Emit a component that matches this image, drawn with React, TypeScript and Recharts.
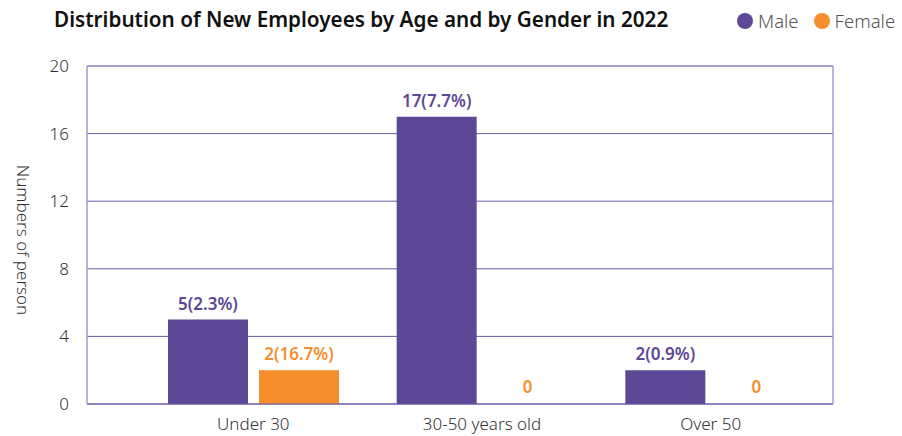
import React from 'react';
import { BarChart, Bar, XAxis, YAxis, CartesianGrid, LabelList, ReferenceLine } from 'recharts';

const categories = ['Under 30', '30-50 years old', 'Over 50'];
const maleValues = [5, 17, 2];
const malePct = ['2.3%', '7.7%', '0.9%'];
const femaleValues = [2, 0, 0];
const femalePct = ['16.7%', '', ''];
const yTicks = [0, 4, 8, 12, 16, 20];

const MALE = '#5c4894';
const FEMALE = '#f58f2e';
const GRID = '#6a5aa6';
const BORDER = '#a39acf';
const FONT = '"Noto Sans", sans-serif';

const data = categories.map((name, i) => ({
  name,
  male: maleValues[i],
  female: femaleValues[i],
  maleLabel: malePct[i] ? `${maleValues[i]}(${malePct[i]})` : `${maleValues[i]}`,
  femaleLabel: femalePct[i] ? `${femaleValues[i]}(${femalePct[i]})` : `${femaleValues[i]}`,
}));

const LegendBox = () => (
  <div style={{ position: 'absolute', left: 737, top: 8, display: 'flex', alignItems: 'center', fontFamily: FONT, fontSize: 18.5, fontWeight: 300, color: '#555' }}>
    {[{ c: MALE, t: 'Male' }, { c: FEMALE, t: 'Female' }].map((it) => (
      <span key={it.t} style={{ display: 'flex', alignItems: 'center', marginRight: 15 }}>
        <span style={{ width: 16, height: 16, borderRadius: 8, background: it.c, marginRight: 5 }} />
        {it.t}
      </span>
    ))}
  </div>
);

const YLabel = () => (
  <text x={22} y={240} transform="rotate(90 22 240)" textAnchor="middle" dominantBaseline="middle"
    fill="#333" fontSize={17} fontFamily={FONT} fontWeight={300}>
    Numbers of person
  </text>
);

// hide zero-height bars but keep their labels
const FemaleShape = (props: any) => {
  const { x, y, width, height, payload } = props;
  if (!payload || payload.female === 0) return null;
  return <rect x={x} y={y} width={width} height={height} fill={FEMALE} />;
};

export default function App() {
  return (
    <div style={{ position: 'absolute', left: 0, top: 0, width: 902, height: 436, background: '#fff' }}>
      <div style={{ position: 'absolute', left: 54, top: 5, fontFamily: FONT, fontWeight: 600, fontSize: 20.7, color: '#111', whiteSpace: 'nowrap' }}>
        Distribution of New Employees by Age and by Gender in 2022
      </div>
      <LegendBox />
      <BarChart width={902} height={436} data={data} margin={{ top: 66, right: 0, left: 0, bottom: 0 }} barSize={80} barGap={11}>
        <CartesianGrid vertical={false} stroke={GRID} strokeWidth={1} />
        <ReferenceLine y={20} stroke={BORDER} strokeWidth={1.5} />
        <XAxis dataKey="name" height={32} padding={{ left: 52, right: 8 }} axisLine={{ stroke: GRID }} tickLine={false}
          tickMargin={8} tick={{ fill: '#333', fontSize: 17, fontFamily: FONT, fontWeight: 300 }} />
        <YAxis width={87} domain={[0, 20]} ticks={yTicks} axisLine={{ stroke: BORDER, strokeWidth: 1.5 }} tickLine={false}
          tickMargin={12} tick={{ fill: '#333', fontSize: 17, fontFamily: FONT, fontWeight: 300 }} label={<YLabel />} />
        <YAxis yAxisId="right" orientation="right" width={69} domain={[0, 20]} axisLine={{ stroke: BORDER, strokeWidth: 1.5 }} tick={false} tickLine={false} />
        <Bar dataKey="male" fill={MALE} isAnimationActive={false}>
          <LabelList dataKey="maleLabel" position="top" offset={10} fill={MALE} fontSize={17} fontWeight={600} fontFamily={FONT} />
        </Bar>
        <Bar dataKey="female" fill={FEMALE} minPointSize={1} shape={<FemaleShape />} isAnimationActive={false}>
          <LabelList dataKey="femaleLabel" position="top" offset={10} fill={FEMALE} fontSize={17} fontWeight={600} fontFamily={FONT} />
        </Bar>
      </BarChart>
    </div>
  );
}
